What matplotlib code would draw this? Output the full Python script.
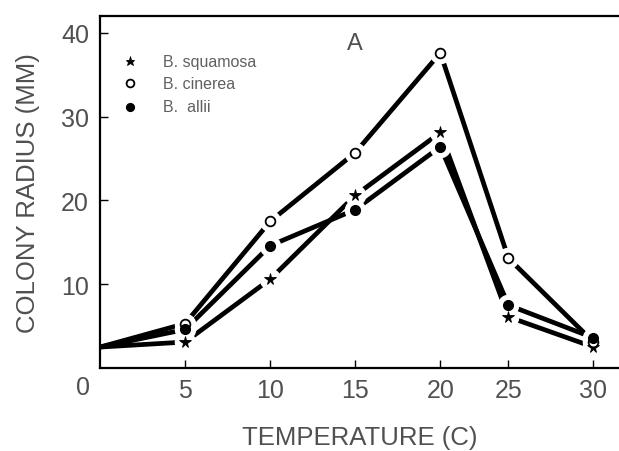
import matplotlib
matplotlib.use("Agg")
import matplotlib.pyplot as plt

# Colony radius (mm) against incubation temperature (C)
temperatures = [0, 5, 10, 15, 20, 25, 30]
# horizontal placement of each temperature on the printed axis (25 and 30 sit closer)
temp_axis_pos = [0, 5, 10, 15, 20, 24, 29]

squamosa = [2.5, 3.1, 10.6, 20.6, 28.1, 6.1, 2.5]
cinerea = [2.5, 5.3, 17.5, 25.7, 37.6, 13.1, 3.1]
allii = [2.5, 4.6, 14.6, 18.9, 26.4, 7.5, 3.6]

series_names = ["B. squamosa", "B. cinerea", "B.  allii"]
y_ticks = [10, 20, 30, 40]

plt.rcParams["font.family"] = ["Liberation Sans", "DejaVu Sans"]
text_grey = "#505050"

fig = plt.figure(figsize=(6.19, 4.52), dpi=100)
ax = fig.add_axes([0.1616, 0.1836, 0.8384, 0.7788])

styles = [
    dict(marker="*", ms=8.5, mfc="black", mec="black", mew=0.6),
    dict(marker="o", ms=7, mfc="white", mec="black", mew=1.3),
    dict(marker="o", ms=7, mfc="black", mec="black", mew=1.0),
]
series = [squamosa, cinerea, allii]

for vals in series:
    ax.plot(temp_axis_pos, vals, color="black", lw=3.4,
            solid_capstyle="butt", solid_joinstyle="miter", zorder=2)

# white halos so the line segments stop short of each data point
for vals in series:
    ax.plot(temp_axis_pos[1:], vals[1:], ls="none", marker="o", ms=14.5,
            mfc="white", mec="white", zorder=3)

for vals, st in zip(series, styles):
    ax.plot(temp_axis_pos[1:], vals[1:], ls="none", zorder=4, **st)

ax.set_xlim(0, 30.5)
ax.set_ylim(0, 42)

ax.set_xticks(temp_axis_pos[1:])
ax.set_xticklabels([str(t) for t in temperatures[1:]])
ax.set_yticks(y_ticks)
ax.set_yticklabels([str(v) for v in y_ticks])

ax.tick_params(axis="both", direction="in", length=6, width=1.0,
               labelsize=18, labelcolor=text_grey)
ax.tick_params(axis="x", pad=7)
ax.tick_params(axis="y", pad=8)

for side in ("left", "bottom", "top"):
    ax.spines[side].set_linewidth(1.6)
ax.spines["right"].set_visible(False)

ax.annotate("0", xy=(0, 0), xycoords="data", xytext=(-12, -14),
            textcoords="offset points", ha="center", va="center",
            fontsize=18, color=text_grey)

ax.set_ylabel("COLONY RADIUS (MM)", fontsize=18.5, color=text_grey, labelpad=15)
ax.set_xlabel("TEMPERATURE (C)", fontsize=18.5, color=text_grey, labelpad=17)

# panel letter
ax.text(15.0, 38.8, "A", fontsize=17, color=text_grey, ha="center", va="center")

# hand-placed key in the upper left corner
key_y = [36.6, 34.0, 31.2]
for yk, name, st in zip(key_y, series_names, styles):
    ax.plot([1.75], [yk], ls="none", zorder=4, **dict(st, ms=st["ms"] * 0.8))
    ax.text(3.7, yk, name, fontsize=11.5, color="#606060", va="center", ha="left")

fig.savefig("out.png", dpi=100)
